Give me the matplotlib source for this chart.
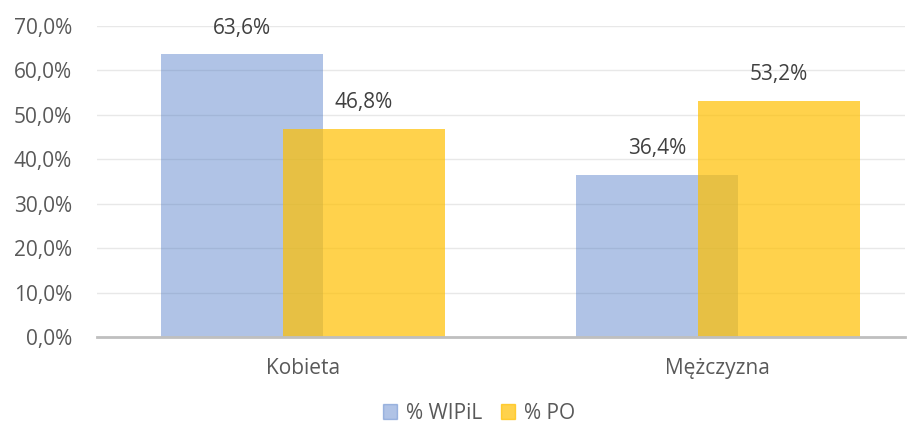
import matplotlib.pyplot as plt
from matplotlib.patches import Patch

# data
categories = ["Kobieta", "Mężczyzna"]
wipil = [63.6, 36.4]
po = [46.8, 53.2]
series_names = ["% WIPiL", "% PO"]

plt.rcParams['font.family'] = ['Open Sans', 'DejaVu Sans']
text_col = "#595959"
fs = 15

fig = plt.figure(figsize=(9.1, 4.28), dpi=100)
ax = fig.add_axes([0.1066, 0.2126, 0.888, 0.7267])

x = list(range(len(categories)))
w = 0.39
off = 0.147
blue = ax.bar([i - off for i in x], wipil, w, color="#4472C4", alpha=0.42, zorder=2)
yellow = ax.bar([i + off for i in x], po, w, color="#FFC000", alpha=0.70, zorder=3)

def fmt(v):
    return f"{v:.1f}%".replace(".", ",")

for bars, vals in ((blue, wipil), (yellow, po)):
    for b, v in zip(bars, vals):
        ax.annotate(fmt(v), (b.get_x() + b.get_width() / 2, v),
                    xytext=(0, 19), textcoords="offset points",
                    ha="center", va="center", fontsize=fs, color="#404040")

ax.set_ylim(0, 70)
ax.set_xlim(-0.496, 1.451)
ax.set_yticks(range(0, 71, 10))
ax.set_yticklabels([fmt(t) for t in range(0, 71, 10)])
ax.set_xticks(x)
ax.set_xticklabels(categories)
ax.tick_params(axis="both", length=0, labelsize=fs, colors=text_col)
ax.tick_params(axis="y", pad=18)
ax.tick_params(axis="x", pad=15)
ax.yaxis.grid(True, color="#E8E8E8", linewidth=1, zorder=0)
ax.set_axisbelow(True)
for s in ("top", "right", "left"):
    ax.spines[s].set_visible(False)
ax.spines["bottom"].set_color("#BFBFBF")
ax.spines["bottom"].set_linewidth(2)
ax.spines["bottom"].set_zorder(4)

handles = [Patch(color="#4472C4", alpha=0.42), Patch(color="#FFC000", alpha=0.70)]
fig.legend(handles, series_names, loc="center", bbox_to_anchor=(0.526, 0.035),
           ncol=2, frameon=False, fontsize=fs, labelcolor=text_col,
           handlelength=0.7, handleheight=0.7, handletextpad=0.4, columnspacing=0.9)

fig.savefig("out.png", dpi=100)
